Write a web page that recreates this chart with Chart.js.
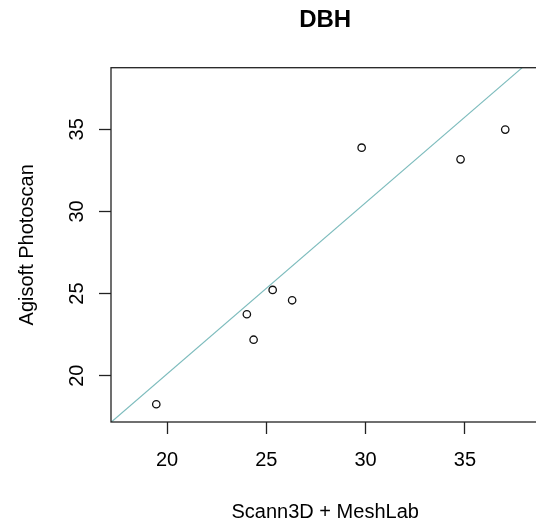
<!DOCTYPE html>
<html>
<head>
<meta charset="utf-8">
<script src="https://cdn.jsdelivr.net/npm/chart.js@4"></script>
<style>
  html, body { margin: 0; padding: 0; background: #fff; overflow: hidden; }
  #wrap { width: 550px; height: 522px; }
</style>
</head>
<body>
<div id="wrap"><canvas id="c" width="550" height="522"></canvas></div>
<script>
// values
const chartTitle = 'DBH';
const xTitle = 'Scann3D + MeshLab';
const yTitle = 'Agisoft Photoscan';
const xValues = [19.46, 24.02, 24.36, 25.32, 26.30, 29.80, 34.78, 37.03];
const yValues = [18.26, 23.74, 22.19, 25.22, 24.59, 33.88, 33.17, 34.98];
const tickValues = [20, 25, 30, 35];
const axisMin = 17.18;
const axisMax = 38.75;
// reference line y = a + b*x
const lineIntercept = -0.76;
const lineSlope = 1.043;

const FONT = '"Liberation Sans", Arial, sans-serif';
const points = xValues.map((x, i) => ({x, y: yValues[i]}));
const refLine = [axisMin, axisMax].map(x => ({x, y: lineIntercept + lineSlope * x}));

// box round the plot, title, axis titles and the upright y tick labels
const frameAndText = {
  id: 'frameAndText',
  afterDraw(chart) {
    const {ctx, chartArea: a, scales} = chart;
    ctx.save();
    ctx.strokeStyle = '#222';
    ctx.lineWidth = 1.3;
    ctx.strokeRect(a.left, a.top, a.right - a.left, a.bottom - a.top);

    ctx.fillStyle = '#000';
    const cx = (a.left + a.right) / 2;
    const cy = (a.top + a.bottom) / 2;
    ctx.textAlign = 'center';
    ctx.textBaseline = 'alphabetic';
    ctx.font = 'bold 24px ' + FONT;
    ctx.fillText(chartTitle, cx, 27);
    ctx.font = '20px ' + FONT;
    ctx.fillText(xTitle, cx, 518);

    ctx.save();
    ctx.translate(33, cy);
    ctx.rotate(-Math.PI / 2);
    ctx.fillText(yTitle, 0, 0);
    ctx.restore();

    tickValues.forEach(v => {
      const py = scales.y.getPixelForValue(v);
      ctx.save();
      ctx.translate(82.7, py);
      ctx.rotate(-Math.PI / 2);
      ctx.fillText(String(v), 0, 0);
      ctx.restore();
    });
    ctx.restore();
  }
};

const fixTicks = scale => { scale.ticks = tickValues.map(v => ({value: v})); };

new Chart(document.getElementById('c'), {
  type: 'scatter',
  data: {
    datasets: [
      {
        type: 'line',
        data: refLine,
        borderColor: '#7dbcbd',
        borderWidth: 1.1,
        pointRadius: 0,
        fill: false
      },
      {
        data: points,
        pointStyle: 'circle',
        pointRadius: 3.7,
        pointBorderWidth: 1.3,
        borderColor: '#111',
        backgroundColor: 'rgba(0,0,0,0)',
        pointHoverRadius: 3.7
      }
    ]
  },
  options: {
    responsive: false,
    animation: false,
    events: [],
    // plot box runs past the right edge of the 536px window, as in the reference
    layout: { padding: { top: 67.7, right: 10.6, left: 0, bottom: 0 } },
    plugins: { legend: { display: false }, title: { display: false }, tooltip: { enabled: false } },
    scales: {
      x: {
        type: 'linear',
        min: axisMin,
        max: axisMax,
        afterBuildTicks: fixTicks,
        afterFit: s => { s.height = 100; s.paddingLeft = 0; s.paddingRight = 0; },
        grid: { drawOnChartArea: false, tickLength: 12, tickColor: '#222', tickWidth: 1.3 },
        border: { display: false },
        ticks: { color: '#000', padding: 14, font: { family: FONT, size: 20 }, maxRotation: 0, autoSkip: false }
      },
      y: {
        type: 'linear',
        min: axisMin,
        max: axisMax,
        afterBuildTicks: fixTicks,
        afterFit: s => { s.width = 111; s.paddingTop = 0; s.paddingBottom = 0; },
        grid: { drawOnChartArea: false, tickLength: 12, tickColor: '#222', tickWidth: 1.3 },
        border: { display: false },
        ticks: { display: true, color: 'rgba(0,0,0,0)', font: { family: FONT, size: 20 }, autoSkip: false }
      }
    }
  },
  plugins: [frameAndText]
});
</script>
</body>
</html>
